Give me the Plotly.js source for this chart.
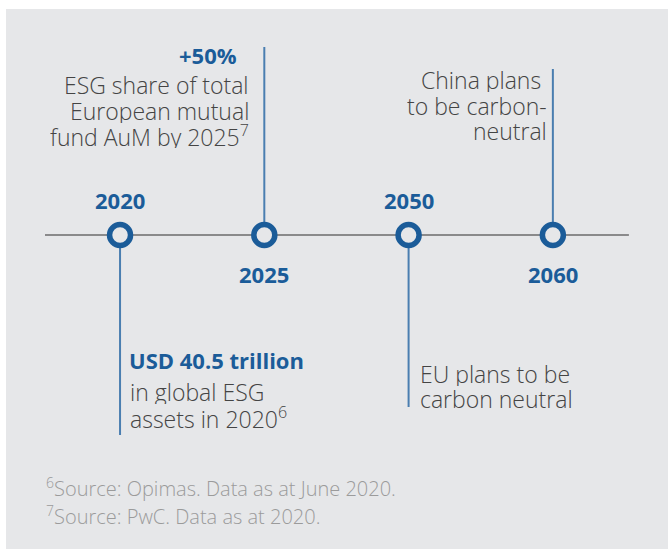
<!DOCTYPE html>
<html>
<head>
<meta charset="utf-8">
<script src="https://cdn.plot.ly/plotly-3.0.1.min.js"></script>
<style>html,body{margin:0;padding:0;background:#fff;}#chart{width:668px;height:549px;}</style>
</head>
<body>
<div id="chart"></div>
<script>
// ---- data ----
const years = ['2020', '2025', '2050', '2060'];
const yearLabelSide = ['above', 'below', 'above', 'below'];
const stemSide = ['down', 'up', 'down', 'up'];
const headlines = ['USD 40.5 trillion', '+50%', '', ''];
const descriptionLines = [
  ['in global ESG', 'assets in 2020<sup>6</sup>'],
  ['ESG share of total', 'European mutual', 'fund AuM by 2025<sup>7</sup>'],
  ['EU plans to be', 'carbon neutral'],
  ['China plans&nbsp;', 'to be carbon-', 'neutral']
];
const footnotes = [
  '<sup>6</sup>Source: Opimas. Data as at June 2020.',
  '<sup>7</sup>Source: PwC. Data as at 2020.'
];

// ---- styles / layout config ----
const BLUE = '#1b5c99';
const TEXT = '#444444';
const NOTE = '#9b9b9b';
const PANEL = '#e6e7e9';
const FONT = '"Open Sans", Lato, sans-serif';
const stemLen = {up: [0, 188, 0, 166], down: [200, 0, 172, 0]};
// text block placement (pixel offsets from each milestone)
const blockCfg = [
  {anchor: 'left',  xshift: 8,   headShift: 7,   headY: -125, firstLineY: -157, lineGap: 26},
  {anchor: 'right', xshift: -13, headShift: -25, headY: 180,  firstLineY: 150,  lineGap: 25.5},
  {anchor: 'left',  xshift: 9,   headShift: 0,   headY: null, firstLineY: -139, lineGap: 25},
  {anchor: 'right', xshift: -4,  headShift: 0,   headY: null, firstLineY: 155,  lineGap: 25.7}
];

const shapes = [
  {type: 'rect', xref: 'paper', yref: 'paper', x0: 6/668, x1: 1, y0: 0, y1: 1 - 9/549,
   fillcolor: PANEL, line: {width: 0}, layer: 'below'},
  {type: 'line', xref: 'x', yref: 'y', x0: -0.52, x1: 3.527, y0: 0, y1: 0,
   line: {color: '#6b6b6b', width: 1.5}, layer: 'below'}
];
years.forEach((yr, i) => {
  const len = stemSide[i] === 'up' ? stemLen.up[i] : -stemLen.down[i];
  shapes.push({type: 'line', xref: 'x', yref: 'y', x0: i, x1: i, y0: 0, y1: len,
    line: {color: '#4a7eb0', width: 2}, layer: 'below'});
});

const bodyFont = {family: FONT, size: 23, color: TEXT, weight: 300};
const boldFont = {family: FONT, size: 22, color: BLUE, weight: 700};

const annotations = [];
years.forEach((yr, i) => {
  annotations.push({x: i, y: yearLabelSide[i] === 'above' ? 35 : -39, xref: 'x', yref: 'y',
    text: yr, showarrow: false, xanchor: 'center', yanchor: 'middle', font: boldFont});
  const cfg = blockCfg[i];
  if (headlines[i]) {
    annotations.push({x: i, y: cfg.headY, xshift: cfg.headShift, xref: 'x', yref: 'y',
      text: headlines[i], showarrow: false, xanchor: cfg.anchor, yanchor: 'middle',
      align: cfg.anchor, font: boldFont});
  }
  descriptionLines[i].forEach((line, k) => {
    annotations.push({x: i, y: cfg.firstLineY - k * cfg.lineGap, xshift: cfg.xshift, xref: 'x', yref: 'y',
      text: line, showarrow: false, xanchor: cfg.anchor, yanchor: 'middle', height: 24,
      align: cfg.anchor, font: bodyFont});
  });
});
// footnotes
footnotes.forEach((t, k) => {
  annotations.push({xref: 'paper', yref: 'paper', x: 44/668, y: 1 - (487 + 28*k)/549, text: t,
    showarrow: false, xanchor: 'left', yanchor: 'middle', align: 'left',
    font: {family: FONT, size: 20, color: NOTE, weight: 300}});
});

const trace = {
  type: 'scatter', mode: 'markers', x: years, y: years.map(() => 0),
  marker: {symbol: 'circle', size: 21, color: PANEL, line: {color: BLUE, width: 5.5}},
  hoverinfo: 'skip', cliponaxis: false
};

const layout = {
  width: 668, height: 549,
  margin: {l: 0, r: 0, t: 0, b: 0},
  paper_bgcolor: '#ffffff', plot_bgcolor: 'rgba(0,0,0,0)',
  showlegend: false,
  xaxis: {type: 'category', range: [-0.832, 3.798], visible: false, fixedrange: true},
  yaxis: {range: [-314, 235], visible: false, fixedrange: true},
  shapes: shapes, annotations: annotations,
  font: {family: FONT}
};

Plotly.newPlot('chart', [trace], layout, {displayModeBar: false, staticPlot: true});
</script>
</body>
</html>
